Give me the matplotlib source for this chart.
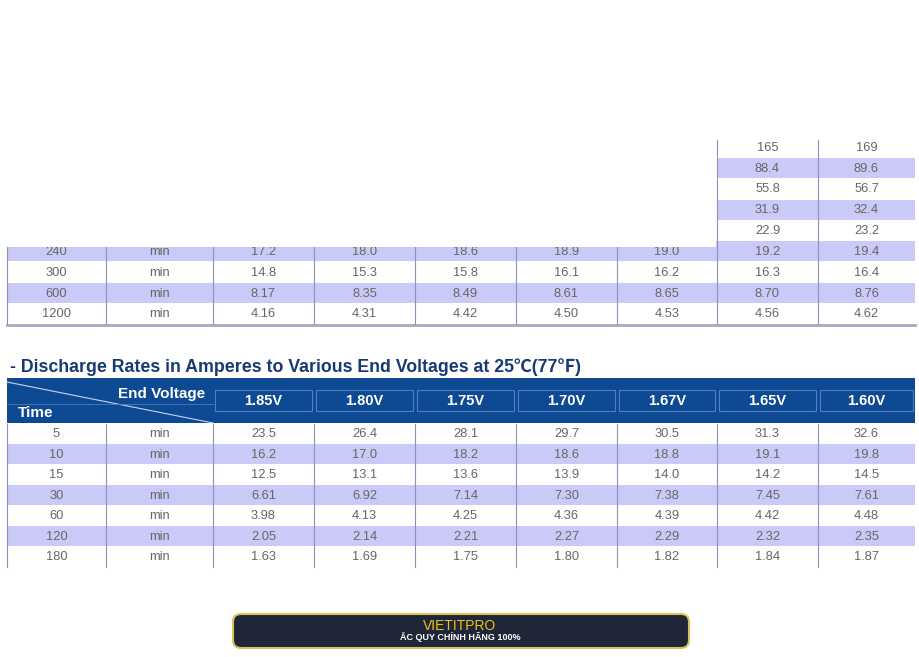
import matplotlib
matplotlib.use("Agg")
import matplotlib.pyplot as plt
from matplotlib.patches import Rectangle, FancyBboxPatch

plt.rcParams['font.family'] = ['Liberation Sans Narrow', 'Liberation Sans', 'DejaVu Sans']

# Top (partial) table
top_partial_cols = [["165", "169"], ["88.4", "89.6"], ["55.8", "56.7"], ["31.9", "32.4"], ["22.9", "23.2"]]
top_times = ["240", "300", "600", "1200"]
top_vals = [
    ["17.2", "18.0", "18.6", "18.9", "19.0", "19.2", "19.4"],
    ["14.8", "15.3", "15.8", "16.1", "16.2", "16.3", "16.4"],
    ["8.17", "8.35", "8.49", "8.61", "8.65", "8.70", "8.76"],
    ["4.16", "4.31", "4.42", "4.50", "4.53", "4.56", "4.62"],
]
# Bottom table
title = "- Discharge Rates in Amperes to Various End Voltages at 25\u2103(77\u2109)"
voltages = ["1.85V", "1.80V", "1.75V", "1.70V", "1.67V", "1.65V", "1.60V"]
times = ["5", "10", "15", "30", "60", "120", "180"]
vals = [
    ["23.5", "26.4", "28.1", "29.7", "30.5", "31.3", "32.6"],
    ["16.2", "17.0", "18.2", "18.6", "18.8", "19.1", "19.8"],
    ["12.5", "13.1", "13.6", "13.9", "14.0", "14.2", "14.5"],
    ["6.61", "6.92", "7.14", "7.30", "7.38", "7.45", "7.61"],
    ["3.98", "4.13", "4.25", "4.36", "4.39", "4.42", "4.48"],
    ["2.05", "2.14", "2.21", "2.27", "2.29", "2.32", "2.35"],
    ["1.63", "1.69", "1.75", "1.80", "1.82", "1.84", "1.87"],
]

W, H = 920, 657
fig = plt.figure(figsize=(9.2, 6.57), dpi=100)
ax = fig.add_axes([0, 0, 1, 1])
ax.set_xlim(0, W); ax.set_ylim(H, 0); ax.axis('off')

xs = [7, 106, 213, 314, 415, 516, 617, 717, 818, 915]
SH = '#cacaf8'; TC = '#666666'; LC = '#9090b8'; RH = 20.75
FS = 9.3

def cell_text(x0, x1, yc, s):
    ax.text((x0 + x1) / 2, yc, s, ha='center', va='center', fontsize=FS, color=TC)

# top partial columns
y0 = 137.5
for i, row in enumerate(top_partial_cols):
    yt = y0 + i * RH
    top = max(yt, 140)
    if i % 2 == 1:
        ax.add_patch(Rectangle((xs[7], top), xs[9] - xs[7], yt + RH - top - 1, color=SH, lw=0))
    for j, s in enumerate(row):
        cell_text(xs[7 + j], xs[8 + j], yt + RH / 2, s)
yb = y0 + 5 * RH
for i, t in enumerate(top_times):
    yt = yb + i * RH
    if i % 2 == 0:
        ax.add_patch(Rectangle((xs[0], yt), xs[9] - xs[0], RH - 1, color=SH, lw=0))
    row = [t, "min"] + top_vals[i]
    for j, s in enumerate(row):
        cell_text(xs[j], xs[j + 1], yt + RH / 2 + 0.5, s)
# white cover for clipped top of 240 row
ax.add_patch(Rectangle((0, 200), xs[7] - 0.5, yb + 6 - 200, color='white', lw=0, zorder=3))
ytop_end = yb + 4 * RH
for j, x in enumerate(xs[:-1]):
    ax.plot([x, x], [140 if j >= 7 else yb + 6, ytop_end], color=LC, lw=0.8, zorder=4)
ax.plot([xs[0], xs[9]], [ytop_end + 1, ytop_end + 1], color='#a8a8c0', lw=2)

# title
ax.text(10, 367, title, ha='left', va='center', fontsize=12.8, fontweight='bold',
        color='#173a72', family=['Liberation Sans', 'Noto Sans CJK SC', 'DejaVu Sans'])

# header band
BL = '#0e4a93'
ax.add_patch(Rectangle((xs[0], 378), 915 - xs[0], 45, color=BL, lw=0))
ax.plot([xs[0], xs[2]], [382, 423], color='#c8d4ea', lw=0.8)
ax.plot([xs[0], xs[2]], [404, 404], color='#4d7ab8', lw=0.6)
ax.text(205, 394, "End Voltage", ha='right', va='center', fontsize=11, fontweight='bold',
        color='white', family=['Liberation Sans', 'DejaVu Sans'])
ax.text(18, 413, "Time", ha='left', va='center', fontsize=11, fontweight='bold',
        color='white', family=['Liberation Sans', 'DejaVu Sans'])
for j, v in enumerate(voltages):
    x0 = xs[2 + j] + 2; x1 = min(xs[3 + j], 915) - 2
    ax.add_patch(Rectangle((x0, 390), x1 - x0, 21, fill=False, ec='#4f7fc0', lw=0.8))
    ax.text((x0 + x1) / 2, 401, v, ha='center', va='center', fontsize=10.5, fontweight='bold',
            color='white', family=['Liberation Sans', 'DejaVu Sans'])

yd = 423.5
RB = 20.5
for i, t in enumerate(times):
    yt = yd + i * RB
    if i % 2 == 1:
        ax.add_patch(Rectangle((xs[0], yt), xs[9] - xs[0], RB - 1, color=SH, lw=0))
    row = [t, "min"] + vals[i]
    for j, s in enumerate(row):
        cell_text(xs[j], xs[j + 1], yt + RB / 2 + 0.5, s)
for x in xs[:-1]:
    ax.plot([x, x], [yd, yd + 7 * RB], color=LC, lw=0.8)

# banner
ax.add_patch(FancyBboxPatch((233, 614), 456, 34, boxstyle="round,pad=0,rounding_size=8",
                            fc='#1f2638', ec='#d9c25a', lw=1.5))
ax.text(460, 626, "VIETITPRO", ha='center', va='center', fontsize=10, color='#f0c21c',
        family=['Liberation Sans', 'DejaVu Sans'])
ax.text(460, 637.5, "ẮC QUY CHÍNH HÃNG 100%", ha='center', va='center', fontsize=6.5,
        fontweight='bold', color='white', family=['Liberation Sans', 'DejaVu Sans'])

fig.savefig("out.png", dpi=100)
